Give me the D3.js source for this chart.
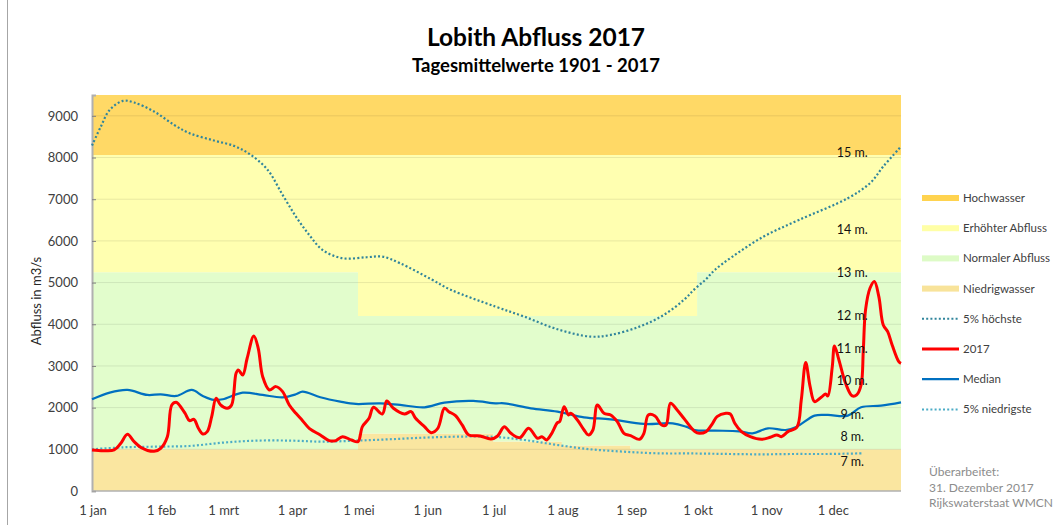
<!DOCTYPE html>
<html>
<head>
<meta charset="utf-8">
<script src="https://cdn.jsdelivr.net/npm/d3@7"></script>
<style>
  body { margin: 0; background: #fff; }
  text { font-family: Lato, 'Open Sans', sans-serif; }
</style>
</head>
<body>
<div id="chart"></div>
<script>
// Month starts (day of year) and their labels
const monthStarts = [0, 31, 59, 90, 120, 151, 181, 212, 243, 273, 304, 334];
const monthLabels = ['1 jan', '1 feb', '1 mrt', '1 apr', '1 mei', '1 jun', '1 jul', '1 aug', '1 sep', '1 okt', '1 nov', '1 dec'];
const yTicks = [0, 1000, 2000, 3000, 4000, 5000, 6000, 7000, 8000, 9000];

// Band limits per month (m3/s)
const niedrigGrenze = [1000, 1000, 1000, 1000, 1380, 1380, 1190, 1090, 1000, 1000, 1000, 1000];
const normalGrenze = [5250, 5250, 5250, 5250, 4200, 4200, 4200, 4200, 4200, 5250, 5250, 5250];
const hochGrenze = [8060, 8060, 8060, 8060, 8060, 8060, 8060, 8060, 8060, 8060, 8060, 8060];
const yMax = 9500;

// 2017 daily discharge
const dagen2017 = [0,5,10,13,16,19,22,28,31,34,36,38,39,42,44,46,48,50,52,54,56,58,61,63,65,66,68,70,73,75,
  77,80,83,86,89,92,95,98,103,107,110,113,117,120,122,125,127,131,133,136,141,144,146,150,153,156,159,161,164,167,
  170,175,180,183,186,189,193,197,201,203,205,207,210,211,213,215,216,219,222,224,226,228,231,234,237,240,243,247,249,251,
  254,257,259,261,264,267,272,274,277,280,282,286,288,290,293,297,302,306,309,311,314,318,320,322,324,326,329,331,332,334,
  335,337,340,343,345,347,348,349,351,353,355,357,359,361,364,365];
const abfluss2017 = [984,967,984,1145,1360,1184,1048,952,1024,1304,2064,2128,2088,1864,1688,1720,1504,1368,1424,1784,
  2224,2064,1984,2064,2824,2904,2784,3184,3720,3424,2744,2424,2504,2384,2064,1864,1688,1504,1344,1208,
  1208,1304,1224,1184,1544,1744,2008,1848,2160,1984,1848,1904,1744,1544,1400,1504,1984,1904,1808,1584,
  1344,1320,1248,1320,1544,1384,1280,1504,1264,1304,1224,1344,1640,1664,2024,1824,1864,1704,1464,1344,
  1464,2064,1864,1824,1664,1384,1328,1240,1384,1824,1800,1584,1584,2104,1944,1744,1424,1384,1424,1624,
  1784,1864,1848,1624,1424,1304,1240,1288,1344,1304,1424,1528,2184,3080,2504,2144,2248,2328,2280,2984,
  3480,3144,2584,2280,2304,2544,3384,4344,4864,5024,4664,3984,3824,3504,3104,3064];

// Median 1901 - 2017
const dagenMedian = [0,8,16,25,31,38,45,50,55,59,68,77,86,92,95,103,112,119,130,139,150,159,172,182,186,198,210,222,234,249,
  262,268,272,281,292,298,305,313,318,326,332,341,347,356,365];
const median = [2200,2360,2424,2304,2320,2280,2424,2280,2184,2200,2360,2304,2248,2320,2384,2248,2144,2088,2104,2064,
  2008,2120,2160,2104,2104,1984,1904,1768,1720,1608,1624,1544,1460,1448,1432,1384,1504,1464,1544,1808,
  1824,1808,2008,2048,2128];

// 5% hoechste
const dagenHoog = [0,4,8,14,19,28,37,44,55,64,71,79,86,92,98,104,113,124,131,139,153,162,182,195,210,225,234,247,258,267,
  272,277,281,289,303,319,341,351,357,365];
const hoog = [8288,8744,9144,9360,9320,9104,8784,8584,8408,8280,8088,7720,7104,6584,6144,5784,5584,5608,5624,5464,
  5080,4824,4424,4184,3880,3704,3744,3944,4224,4584,4848,5080,5304,5624,6104,6504,7024,7384,7784,8264];

// 5% niedrigste
const dagenLaag = [0,14,29,44,59,74,90,104,119,134,150,165,181,195,210,225,240,255,272,287,302,317,332,348];
const laag = [1000,1048,1064,1080,1160,1208,1208,1184,1208,1240,1280,1304,1300,1224,1104,1000,944,904,900,888,880,888,888,904];

// Water level labels at Lobith (discharge where each label sits)
const pegelLabels = ['15 m.', '14 m.', '13 m.', '12 m.', '11 m.', '10 m.', '9 m.', '8 m.', '7 m.'];
const pegelAbfluss = [8110, 6260, 5240, 4200, 3400, 2640, 1820, 1290, 700];

const legendLabels = ['Hochwasser', 'Erhöhter Abfluss', 'Normaler Abfluss', 'Niedrigwasser', '5% höchste', '2017', 'Median', '5% niedrigste'];

// Dimensions
const width = 1055, height = 525;
const plot = { left: 92, right: 901, top: 95, bottom: 491 };

const colors = {
  hoch: '#FFD966', erhoeht: '#FFFFB0', normal: '#E2FDCC', niedrig: '#FAE6A0',
  hoog: '#31859C', laag: '#4BACC6', y2017: '#FF0000', median: '#0070C0'
};

const svg = d3.select('#chart').append('svg')
  .attr('width', width).attr('height', height);

svg.append('rect').attr('width', width).attr('height', height).attr('fill', '#fff');
svg.append('line').attr('x1', 7.5).attr('x2', 7.5).attr('y1', 0).attr('y2', height)
  .attr('stroke', '#a6a6a6');

const x = d3.scaleLinear().domain([0, 365]).range([plot.left, plot.right]);
const y = d3.scaleLinear().domain([0, yMax]).range([plot.bottom, plot.top]);

// Bands as step areas per month
const bandData = monthStarts.map((d, i) => ({ day: d, i: i })).concat([{ day: 365, i: 11 }]);
const bands = [
  { color: colors.niedrig, lo: () => 0, hi: i => niedrigGrenze[i] },
  { color: colors.normal, lo: i => niedrigGrenze[i], hi: i => normalGrenze[i] },
  { color: colors.erhoeht, lo: i => normalGrenze[i], hi: i => hochGrenze[i] },
  { color: colors.hoch, lo: i => hochGrenze[i], hi: () => yMax }
];
bands.forEach(b => {
  svg.append('path')
    .datum(bandData)
    .attr('fill', b.color)
    .attr('d', d3.area().curve(d3.curveStepAfter)
      .x(d => x(d.day)).y0(d => y(b.lo(d.i))).y1(d => y(b.hi(d.i))));
});

// Gridlines
svg.selectAll('.grid').data(yTicks.slice(1)).enter().append('line')
  .attr('x1', plot.left).attr('x2', plot.right)
  .attr('y1', d => y(d)).attr('y2', d => y(d))
  .attr('stroke', '#000').attr('stroke-opacity', 0.09);

// Axes
const yAxis = svg.append('g').attr('transform', `translate(${plot.left},0)`)
  .call(d3.axisLeft(y).tickValues(yTicks).tickFormat(d3.format('d')).tickSize(-4).tickPadding(14));
yAxis.select('.domain').attr('stroke', '#b0b0b0').attr('stroke-width', 2);
yAxis.selectAll('.tick line').attr('stroke', '#808080');
yAxis.selectAll('.tick text').attr('font-size', 13).attr('fill', '#404040')
  .style('font-family', 'Lato, sans-serif');

svg.append('line').attr('x1', plot.left).attr('x2', plot.right)
  .attr('y1', plot.bottom).attr('y2', plot.bottom)
  .attr('stroke', '#b0b0b0').attr('stroke-width', 1.5);

svg.selectAll('.xlabel').data(monthStarts).enter().append('text')
  .attr('x', d => x(d) + 1).attr('y', plot.bottom + 24)
  .attr('text-anchor', 'middle').attr('font-size', 13).attr('fill', '#404040')
  .text((d, i) => monthLabels[i]);

svg.append('text')
  .attr('transform', `translate(41,${(plot.top + plot.bottom) / 2 + 8}) rotate(-90)`)
  .attr('text-anchor', 'middle').attr('font-size', 13).attr('fill', '#262626')
  .text('Abfluss in m3/s');

// Lines
const lineGen = d3.line().curve(d3.curveCatmullRom.alpha(0.5))
  .x(d => x(d[0])).y(d => y(d[1]));

svg.append('path').datum(dagenLaag.map((d, i) => [d, laag[i]]))
  .attr('fill', 'none').attr('stroke', colors.laag).attr('stroke-width', 2.2)
  .attr('stroke-dasharray', '2 2.2').attr('d', lineGen);

svg.append('path').datum(dagenHoog.map((d, i) => [d, hoog[i]]))
  .attr('fill', 'none').attr('stroke', colors.hoog).attr('stroke-width', 2.2)
  .attr('stroke-dasharray', '2 2.2').attr('d', lineGen);

svg.append('path').datum(dagenMedian.map((d, i) => [d, median[i]]))
  .attr('fill', 'none').attr('stroke', colors.median).attr('stroke-width', 2.2)
  .attr('d', lineGen);

svg.append('path').datum(dagen2017.map((d, i) => [d, abfluss2017[i]]))
  .attr('fill', 'none').attr('stroke', colors.y2017).attr('stroke-width', 3)
  .attr('stroke-linejoin', 'round').attr('d', lineGen);

// Level labels
svg.selectAll('.pegel').data(pegelLabels).enter().append('text')
  .attr('x', x(343)).attr('y', (d, i) => y(pegelAbfluss[i]) + 4)
  .attr('text-anchor', 'middle').attr('font-size', 12.5).attr('fill', '#111')
  .text(d => d);

// Titles
svg.append('text').attr('x', 536).attr('y', 46).attr('text-anchor', 'middle')
  .attr('font-size', 24.5).attr('font-weight', 'bold').attr('fill', '#000')
  .text('Lobith Abfluss 2017');
svg.append('text').attr('x', 536).attr('y', 72).attr('text-anchor', 'middle')
  .attr('font-size', 18.5).attr('font-weight', 'bold').attr('fill', '#000')
  .text('Tagesmittelwerte 1901 - 2017');

// Legend
const legendStyles = [
  { type: 'band', color: '#FFD34F' },
  { type: 'band', color: '#FFFFA6' },
  { type: 'band', color: '#DDFBC6' },
  { type: 'band', color: '#F8E39A' },
  { type: 'line', color: colors.hoog, dash: '2 2.2', w: 2 },
  { type: 'line', color: colors.y2017, w: 3 },
  { type: 'line', color: colors.median, w: 2.2 },
  { type: 'line', color: colors.laag, dash: '2 2.2', w: 2 }
];
const legend = svg.append('g');
legendLabels.forEach((label, i) => {
  const ly = 198 + i * 30.2;
  const s = legendStyles[i];
  if (s.type === 'band') {
    legend.append('rect').attr('x', 922).attr('y', ly - 3).attr('width', 37).attr('height', 6)
      .attr('fill', s.color);
  } else {
    legend.append('line').attr('x1', 922).attr('x2', 959).attr('y1', ly).attr('y2', ly)
      .attr('stroke', s.color).attr('stroke-width', s.w)
      .attr('stroke-dasharray', s.dash || null);
  }
  legend.append('text').attr('x', 963).attr('y', ly + 4)
    .attr('font-size', 11.5).attr('fill', '#404040').text(label);
});

// Note at the bottom right
const note = ['Überarbeitet:', '31. Dezember 2017', 'Rijkswaterstaat WMCN'];
svg.selectAll('.note').data(note).enter().append('text')
  .attr('x', 929).attr('y', (d, i) => 476 + i * 15.5)
  .attr('font-size', 12).attr('fill', '#8c8c8c').text(d => d);
</script>
</body>
</html>
